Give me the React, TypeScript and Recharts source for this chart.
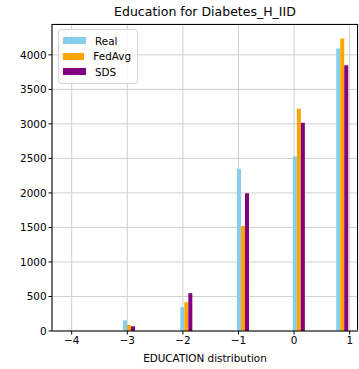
import React from 'react';
import { ComposedChart, Bar, XAxis, YAxis, CartesianGrid, Legend } from 'recharts';

const binCenters = [-3.97, -2.975, -1.944, -0.925, 0.08, 0.86];
const realValues = [15, 155, 349, 2349, 2527, 4092];
const fedAvgValues = [0, 87, 417, 1521, 3220, 4237];
const sdsValues = [0, 68, 548, 1996, 3017, 3849];
const xTicks = [-4, -3, -2, -1, 0, 1];
const yTicks = [0, 500, 1000, 1500, 2000, 2500, 3000, 3500, 4000];
const seriesNames = ['Real', 'FedAvg', 'SDS'];
const seriesColors = ['#87CEEB', '#FFA500', '#800080'];

const data = binCenters.map((x, i) => ({
  x,
  Real: realValues[i],
  FedAvg: fedAvgValues[i],
  SDS: sdsValues[i],
}));

const FONT = 'DejaVu Sans, sans-serif';

const renderLegend = () => (
  <div
    style={{
      border: '1px solid #d6d6d6',
      borderRadius: 3,
      background: 'rgba(255,255,255,0.8)',
      padding: '3px 6px 3px 4px',
      width: 68,
      boxSizing: 'content-box',
      fontFamily: FONT,
      fontSize: 10.4,
      color: '#000',
    }}
  >
    {seriesNames.map((n, i) => (
      <div key={n} style={{ display: 'flex', alignItems: 'center', height: 15.5 }}>
        <div style={{ width: 23, height: 7, background: seriesColors[i], marginRight: 9 }} />
        <span>{n}</span>
      </div>
    ))}
  </div>
);

export default function App() {
  return (
    <div style={{ position: 'absolute', left: 0, top: 0, width: 359, height: 369, background: '#fff' }}>
      <div
        style={{
          position: 'absolute',
          left: 52,
          width: 306,
          top: 4,
          textAlign: 'center',
          fontFamily: FONT,
          fontSize: 12.5,
          color: '#000',
        }}
      >
        Education for Diabetes_H_IID
      </div>
      <ComposedChart
        width={359}
        height={369}
        data={data}
        margin={{ top: 24, right: 1, left: 0, bottom: 0 }}
        barGap={0}
        barSize={4}
      >
        <XAxis
          type="number"
          dataKey="x"
          domain={[-4.354, 1.149]}
          allowDataOverflow
          ticks={xTicks}
          tickFormatter={(v: number) => (v < 0 ? '\u2212' + Math.abs(v) : String(v))}
          height={38}
          axisLine={{ stroke: '#000', strokeWidth: 1 }}
          tickLine={{ stroke: '#000' }}
          tickSize={3.5}
          tick={{ fill: '#000', fontSize: 10.4, fontFamily: FONT }}
          label={{ value: 'EDUCATION distribution', position: 'insideBottom', offset: 7, fill: '#000', fontSize: 10.4, fontFamily: FONT }}
        />
        <YAxis
          type="number"
          domain={[0, 4447]}
          allowDataOverflow
          ticks={yTicks}
          width={52}
          axisLine={{ stroke: '#000', strokeWidth: 1 }}
          tickLine={{ stroke: '#000' }}
          tickSize={3.5}
          tick={{ fill: '#000', fontSize: 10.4, fontFamily: FONT }}
        />
        <CartesianGrid stroke="#cfcfcf" strokeWidth={1} />
        {seriesNames.map((n, i) => (
          <Bar key={n} dataKey={n} fill={seriesColors[i]} isAnimationActive={false} />
        ))}
        <Legend
          layout="vertical"
          align="center"
          verticalAlign="middle"
          wrapperStyle={{ left: 58, top: 29, width: 'auto' }}
          content={renderLegend}
        />
      </ComposedChart>
      <div style={{ position: 'absolute', left: 52, top: 24, width: 306, height: 306, borderTop: '1px solid #000', borderRight: '1px solid #000', boxSizing: 'border-box', pointerEvents: 'none' }} />
    </div>
  );
}
